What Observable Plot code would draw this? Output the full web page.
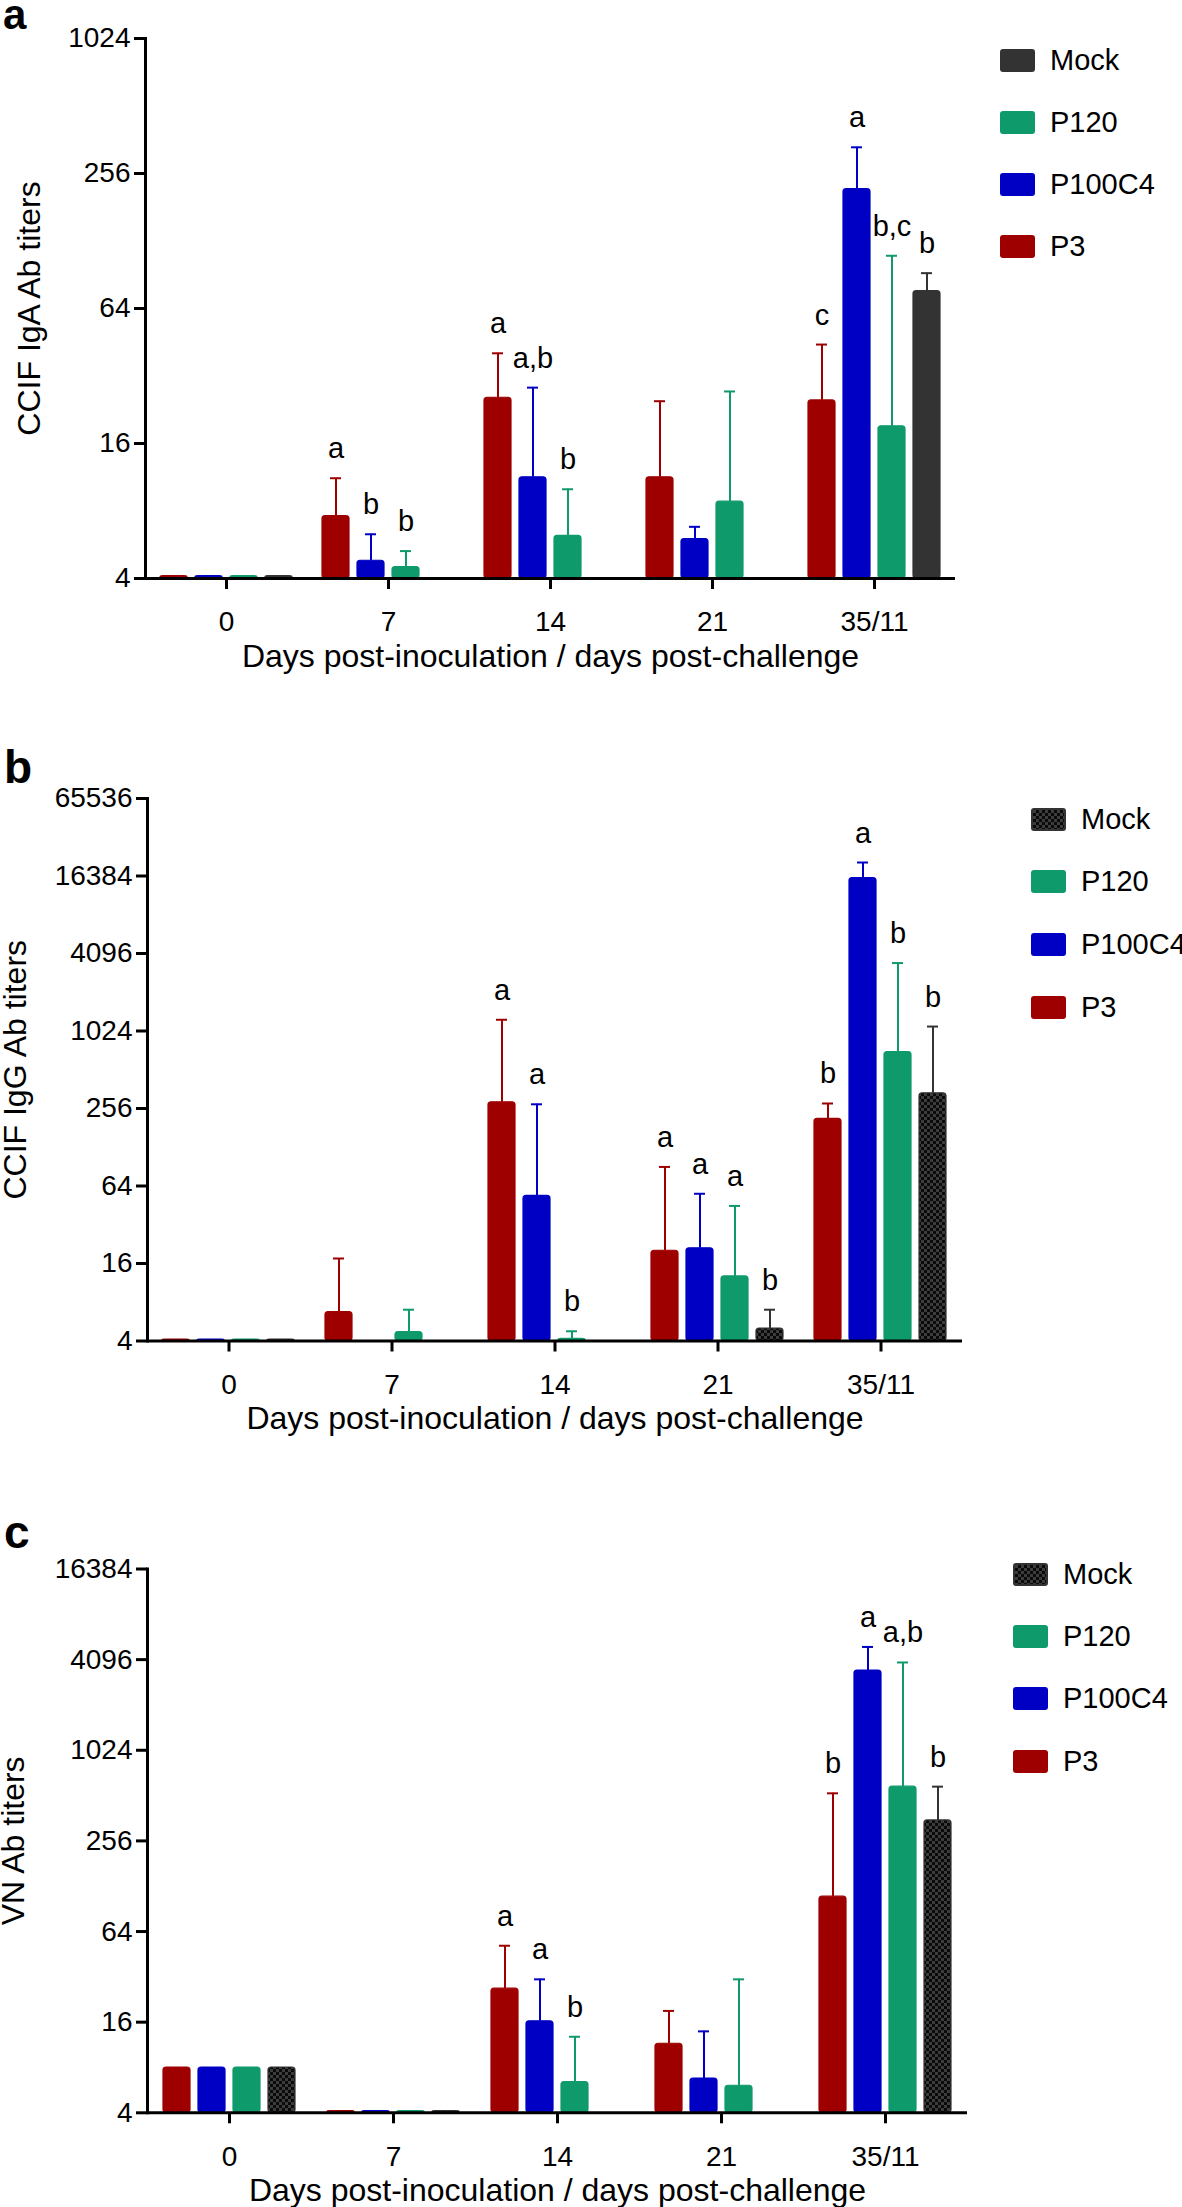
<!DOCTYPE html>
<html>
<head>
<meta charset="utf-8">
<script src="https://cdn.jsdelivr.net/npm/d3@7"></script>
<script src="https://cdn.jsdelivr.net/npm/@observablehq/plot@0.6"></script>
<style>
  body { margin: 0; background: #fff; font-family: "Liberation Sans", Arial, sans-serif; }
  #page { position: relative; width: 1182px; height: 2207px; overflow: hidden; background: #fff; }
  .panel { position: absolute; left: 0; }
  .letter { position: absolute; font-weight: bold; line-height: normal; color: #000; }
  .item { position: absolute; display: flex; align-items: center; height: 30px; white-space: nowrap; font-size: 29px; color: #000; }
  .sw { width: 35px; height: 23px; border-radius: 3px; box-sizing: border-box; margin-right: 15px; flex: none; }
  g[aria-label="y-axis label"], g[aria-label="fx-axis label"] { font-size: 32px; }
</style>
</head>
<body>
<svg width="0" height="0" style="position:absolute">
  <defs>
    <pattern id="checker" width="6" height="6" patternUnits="userSpaceOnUse">
      <rect width="6" height="6" fill="#3c3c3c"></rect>
      <rect width="3" height="3" fill="#0a0a0a"></rect>
      <rect x="3" y="3" width="3" height="3" fill="#0a0a0a"></rect>
    </pattern>
  </defs>
</svg>
<div id="page"></div>
<script>
// ---------- shared categories ----------
const days = ["0", "7", "14", "21", "35/11"];
const series = ["P3", "P100C4", "P120", "Mock"];
const legendOrder = ["Mock", "P120", "P100C4", "P3"];
const seriesColors = ["#9E0000", "#0000C4", "#0E9A6A", "#333333"];
const xTitle = "Days post-inoculation / days post-challenge";

// ---------- panel a: CCIF IgA ----------
const igaTitle = "CCIF IgA Ab titers";
const igaTicks = [4, 16, 64, 256, 1024];
// rows = days, columns = P3, P100C4, P120, Mock
const igaMean = [
  [4.1, 4.1, 4.1, 4.1],
  [7.6, 4.8, 4.5, null],
  [25.6, 11.3, 6.2, null],
  [11.3, 6.0, 8.8, null],
  [24.9, 218, 19.1, 76.5]
];
const igaUpper = [
  [null, null, null, null],
  [11.2, 6.3, 5.3, null],
  [40.4, 28.4, 10.0, null],
  [24.7, 6.8, 27.3, null],
  [44.2, 335, 110, 92]
];
const igaLetters = [
  ["", "", "", ""],
  ["a", "b", "b", ""],
  ["a", "a,b", "b", ""],
  ["", "", "", ""],
  ["c", "a", "b,c", "b"]
];

// ---------- panel b: CCIF IgG ----------
const iggTitle = "CCIF IgG Ab titers";
const iggTicks = [4, 16, 64, 256, 1024, 4096, 16384, 65536];
const iggMean = [
  [4.1, 4.1, 4.1, 4.1],
  [6.7, null, 4.7, null],
  [286, 53.6, 4.16, null],
  [20.1, 21.0, 12.7, 5.0],
  [213, 15777, 703, 336]
];
const iggUpper = [
  [null, null, null, null],
  [17.5, null, 7.0, null],
  [1252, 276, 4.76, null],
  [90, 55.7, 44.8, 7.0],
  [280, 20853, 3452, 1109]
];
const iggLetters = [
  ["", "", "", ""],
  ["", "", "", ""],
  ["a", "a", "b", ""],
  ["a", "a", "a", "b"],
  ["b", "a", "b", "b"]
];

// ---------- panel c: VN ----------
const vnTitle = "VN Ab titers";
const vnTicks = [4, 16, 64, 256, 1024, 4096, 16384];
const vnMean = [
  [8, 8, 8, 8],
  [4.1, 4.1, 4.1, 4.1],
  [26.7, 16.2, 6.4, null],
  [11.5, 6.76, 6.05, null],
  [109, 3467, 587, 350]
];
const vnUpper = [
  [null, null, null, null],
  [null, null, null, null],
  [51.5, 30.8, 12.8, null],
  [19.0, 13.9, 30.8, null],
  [530, 4973, 3922, 587]
];
const vnLetters = [
  ["", "", "", ""],
  ["", "", "", ""],
  ["a", "a", "b", ""],
  ["", "", "", ""],
  ["b", "a", "a,b", "b"]
];

// ---------- helpers ----------
function buildRows(mean, upper, letters) {
  const rows = [];
  days.forEach((day, i) => series.forEach((group, j) => {
    const v = mean[i][j];
    if (v == null) return;
    rows.push({day, group, value: v, upper: upper[i][j], letter: letters[i][j]});
  }));
  return rows;
}
const colorOf = g => seriesColors[series.indexOf(g)];

function drawPanel(o) {
  const rows = buildRows(o.mean, o.upper, o.letters);
  const err = rows.filter(d => d.upper != null);
  const lab = rows.filter(d => d.letter);
  const fillOf = g => (g === "Mock" ? o.mockFill : colorOf(g));
  const plot = Plot.plot({
    width: 1182,
    height: o.height,
    marginTop: o.margin[0], marginRight: o.margin[1], marginBottom: o.margin[2], marginLeft: o.margin[3],
    style: {fontFamily: '"Liberation Sans", Arial, sans-serif', fontSize: "28px", color: "#000", background: "transparent", overflow: "visible"},
    fx: {domain: days, padding: 0},
    x: {domain: series, paddingInner: 0.22, paddingOuter: 0.42, axis: null},
    y: {type: "log", base: 4, domain: [o.ticks[0], o.ticks[o.ticks.length - 1]]},
    color: {type: "identity"},
    marks: [
      Plot.barY(rows, {fx: "day", x: "group", y1: 4, y2: "value", fill: d => fillOf(d.group), stroke: d => colorOf(d.group), strokeWidth: 1.2, rx: 3}),
      Plot.ruleX(err, {fx: "day", x: "group", y1: "value", y2: "upper", stroke: d => colorOf(d.group), strokeWidth: 2}),
      Plot.tickY(err, {fx: "day", x: "group", y: "upper", stroke: d => colorOf(d.group), strokeWidth: 2, insetLeft: 8, insetRight: 8}),
      Plot.text(lab, {fx: "day", x: "group", y: "upper", text: "letter", lineAnchor: "bottom", dy: -20, fontSize: 29, fill: "#000"}),
      Plot.ruleY([4], {strokeWidth: 3, stroke: "#000"}),
      Plot.frame({anchor: "left", facetAnchor: "left", strokeWidth: 3, stroke: "#000"}),
      Plot.axisY({ticks: o.ticks, tickFormat: d => String(d), tickSize: 11, tickPadding: 4, strokeWidth: 3, fontSize: 28,
        label: o.title, labelAnchor: "center", labelOffset: o.labelOffset, labelArrow: "none"}),
      Plot.axisFx({anchor: "bottom", tickSize: 11, tickPadding: 22, strokeWidth: 3, fontSize: 28,
        label: xTitle, labelAnchor: "center", labelOffset: 88, labelArrow: "none"})
    ]
  });
  const wrap = document.createElement("div");
  wrap.className = "panel";
  wrap.style.top = o.top + "px";
  wrap.appendChild(plot);
  document.getElementById("page").appendChild(wrap);

  // panel letter
  const L = document.createElement("div");
  L.className = "letter";
  L.textContent = o.letter;
  L.style.fontSize = o.letterSize + "px";
  L.style.left = o.letterPos[0] + "px";
  L.style.top = o.letterPos[1] + "px";
  document.getElementById("page").appendChild(L);

  // legend
  legendOrder.forEach((name, k) => {
    const it = document.createElement("div");
    it.className = "item";
    it.style.left = o.legend[0] + "px";
    it.style.top = (o.legend[1] + k * o.legend[2] - 15) + "px";
    const sw = document.createElement("div");
    sw.className = "sw";
    if (name === "Mock" && o.mockFill.startsWith("url")) {
      sw.style.background = "repeating-conic-gradient(#0a0a0a 0 25%, #3c3c3c 0 50%) 0 0 / 6px 6px";
      sw.style.border = "2px solid #333";
    } else {
      sw.style.background = colorOf(name);
    }
    const tx = document.createElement("span");
    tx.textContent = name;
    it.appendChild(sw);
    it.appendChild(tx);
    document.getElementById("page").appendChild(it);
  });
}

drawPanel({mean: igaMean, upper: igaUpper, letters: igaLetters, ticks: igaTicks, title: igaTitle,
  top: 0, height: 700, margin: [38, 227, 122, 145], labelOffset: 128, mockFill: "#333333",
  letter: "a", letterSize: 42, letterPos: [3, -9], legend: [1000, 60, 62]});

drawPanel({mean: iggMean, upper: iggUpper, letters: iggLetters, ticks: iggTicks, title: iggTitle,
  top: 700, height: 760, margin: [98, 219, 119.5, 145], labelOffset: 144, mockFill: "url(#checker)",
  letter: "b", letterSize: 46, letterPos: [4, 740], legend: [1031, 819, 62.7]});

drawPanel({mean: vnMean, upper: vnUpper, letters: vnLetters, ticks: vnTicks, title: vnTitle,
  top: 1460, height: 747, margin: [108.5, 215, 94.7, 147], labelOffset: 146, mockFill: "url(#checker)",
  letter: "c", letterSize: 46, letterPos: [4, 1505], legend: [1013, 1574.5, 62.2]});
</script>
</body>
</html>
